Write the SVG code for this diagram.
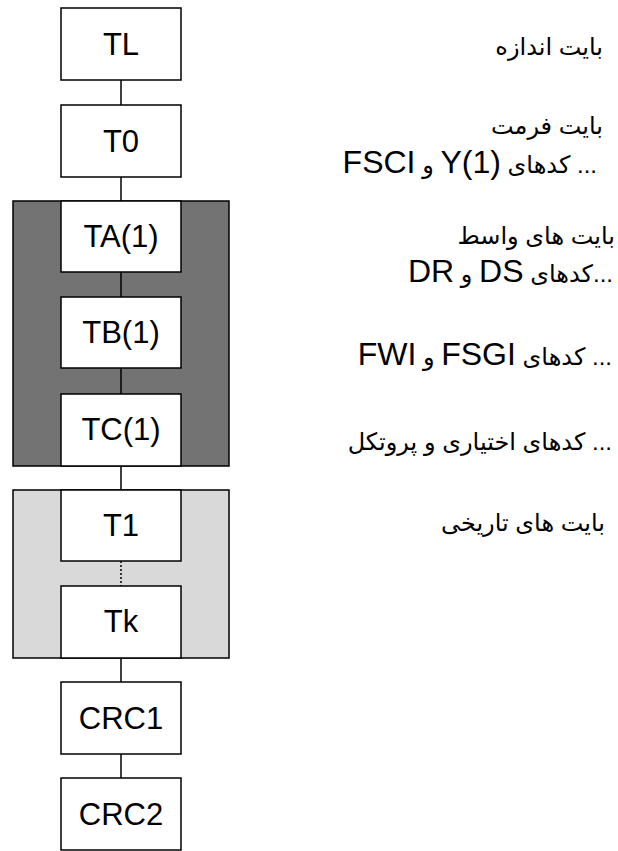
<svg xmlns="http://www.w3.org/2000/svg" width="618" height="851" viewBox="0 0 618 851">
<style>
.box{fill:#fff;stroke:#000;stroke-width:1.5}
.lbl{font-family:"Liberation Sans",Arial,sans-serif;font-size:31px;text-anchor:middle;fill:#000}
.con{stroke:#000;stroke-width:1.5;fill:none}
.fa{font-family:"Liberation Sans","DejaVu Sans",sans-serif;font-size:24px;fill:#000;direction:rtl;text-anchor:start}
.lat{font-size:32px}
</style>
<rect width="618" height="851" fill="#fff"/>
<g id="groupA">
<rect x="13" y="201" width="216" height="265" fill="#737373" stroke="#000" stroke-width="1.5"/>
</g>
<g id="groupHist">
<rect x="13" y="490" width="216" height="168" fill="#d9d9d9" stroke="#000" stroke-width="1.5"/>
</g>
<g id="connectors">
<line class="con" x1="121" y1="80" x2="121" y2="105"/>
<line class="con" x1="121" y1="177" x2="121" y2="201"/>
<line class="con" x1="121" y1="272" x2="121" y2="297"/>
<line class="con" x1="121" y1="368" x2="121" y2="394"/>
<line class="con" x1="121" y1="466" x2="121" y2="490"/>
<line class="con" x1="121" y1="561" x2="121" y2="586" stroke-dasharray="2,2"/>
<line class="con" x1="121" y1="658" x2="121" y2="682"/>
<line class="con" x1="121" y1="754" x2="121" y2="778"/>
</g>
<g id="TL"><rect class="box" x="61" y="8" width="120" height="72"/><text class="lbl" x="121" y="55">TL</text></g>
<g id="T0"><rect class="box" x="61" y="105" width="120" height="72"/><text class="lbl" x="121" y="152">T0</text></g>
<g id="TA1"><rect class="box" x="61" y="201" width="120" height="71"/><text class="lbl" x="121" y="247">TA(1)</text></g>
<g id="TB1"><rect class="box" x="61" y="297" width="120" height="71"/><text class="lbl" x="121" y="343">TB(1)</text></g>
<g id="TC1"><rect class="box" x="61" y="394" width="120" height="72"/><text class="lbl" x="121" y="440">TC(1)</text></g>
<g id="T1"><rect class="box" x="61" y="490" width="120" height="71"/><text class="lbl" x="121" y="536">T1</text></g>
<g id="Tk"><rect class="box" x="61" y="586" width="120" height="72"/><text class="lbl" x="121" y="632">Tk</text></g>
<g id="CRC1"><rect class="box" x="61" y="682" width="120" height="72"/><text class="lbl" x="121" y="729">CRC1</text></g>
<g id="CRC2"><rect class="box" x="61" y="778" width="120" height="72"/><text class="lbl" x="121" y="825">CRC2</text></g>
<g id="notes">
<text class="fa" x="603" y="55">بایت اندازه</text>
<text class="fa" x="603" y="134">بایت فرمت</text>
<text class="fa" x="597" y="173">... کدهای <tspan class="lat">Y(1)&#x200E;</tspan> و <tspan class="lat">FSCI</tspan></text>
<text class="fa" x="615" y="244">بایت های واسط</text>
<text class="fa" x="613" y="282">...کدهای <tspan class="lat">DS</tspan> و <tspan class="lat">DR</tspan></text>
<text class="fa" x="612" y="365">... کدهای <tspan class="lat">FSGI</tspan> و <tspan class="lat">FWI</tspan></text>
<text class="fa" x="612" y="450">... کدهای اختیاری و پروتکل</text>
<text class="fa" x="605" y="531">بایت های تاریخی</text>
</g>
</svg>
